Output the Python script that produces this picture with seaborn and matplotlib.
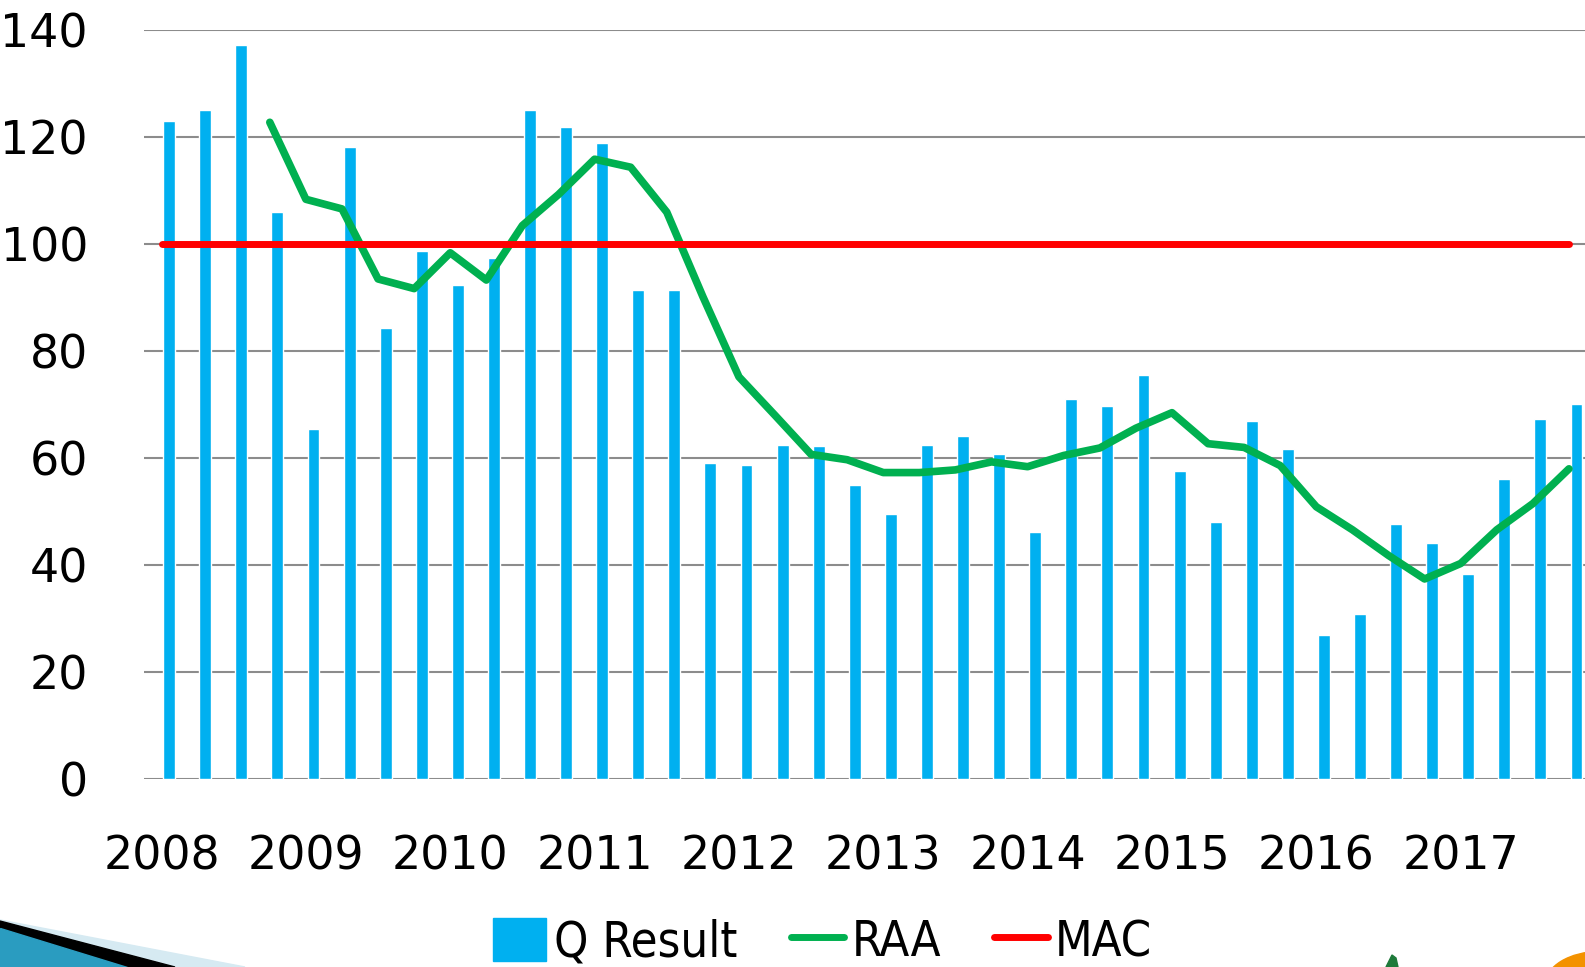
import numpy as np
import matplotlib.pyplot as plt
import seaborn as sns
import pandas as pd
from matplotlib.patches import Polygon, Circle, Patch
from matplotlib.lines import Line2D

sns.set_style('white')
plt.rcParams['font.family'] = ['DejaVu Sans']
plt.rcParams['text.color'] = 'black'

# quarterly results 2008 - 2017
years = ['2008', '2009', '2010', '2011', '2012', '2013', '2014', '2015', '2016', '2017']
q_result = [123.0, 125.1, 137.2, 106.0, 65.4, 118.1, 84.3, 98.8, 92.4, 97.5,
            125.1, 122.0, 119.0, 91.4, 91.4, 59.1, 58.8, 62.5, 62.3, 55.0,
            49.5, 62.5, 64.2, 60.8, 46.1, 71.0, 69.7, 75.6, 57.6, 48.0,
            66.9, 61.8, 27.0, 30.8, 47.6, 44.2, 38.4, 56.1, 67.4, 70.1]
# RAA (starts at the 4th quarter)
raa = [np.nan, np.nan, np.nan, 122.8, 108.4, 106.6, 93.5, 91.7, 98.4, 93.3,
       103.5, 109.3, 115.9, 114.4, 106.0, 90.2, 75.2, 68.0, 60.7, 59.7,
       57.3, 57.3, 57.8, 59.3, 58.4, 60.5, 61.9, 65.6, 68.5, 62.7,
       62.0, 58.6, 50.9, 46.6, 41.8, 37.4, 40.3, 46.6, 51.5, 58.0]
mac = [100] * 40

BLUE = '#00B0F0'
GREEN = '#00B050'
RED = '#FF0000'
GRID = '#8C8C8C'

W, H = 1585, 967
quarters = np.arange(len(q_result))
df = pd.DataFrame({'q': quarters, 'pos': quarters + 0.21,
                   'q_result': q_result, 'raa': raa, 'mac': mac})

fig = plt.figure(figsize=(W / 100, H / 100), dpi=100)
ax = fig.add_axes([143.5 / W, 188 / H, (1587 - 143.5) / W, (779 - 30.3) / H])

sns.barplot(data=df, x='pos', y='q_result', native_scale=True, width=0.33,
            color=BLUE, saturation=1, ax=ax, zorder=2)
sns.lineplot(data=df.dropna(), x='q', y='raa', color=GREEN, lw=5.5,
             solid_capstyle='round', solid_joinstyle='round', ax=ax, zorder=3)
sns.lineplot(data=df, x='q', y='mac', color=RED, lw=5,
             solid_capstyle='round', ax=ax, zorder=4)

ax.set_xlim(-0.5, 39.5)
ax.set_ylim(0, 140)
ax.set_yticks(range(0, 141, 20))
ax.set_xticks(quarters[::4])
ax.set_xticklabels(years)
ax.set_xlabel('')
ax.set_ylabel('')
ax.tick_params(axis='both', length=0, labelsize=33, colors='black')
ax.tick_params(axis='y', pad=40)
ax.tick_params(axis='x', pad=40)
ax.yaxis.grid(True, color=GRID, lw=1.5, zorder=0)
ax.set_axisbelow(True)
for s in ax.spines.values():
    s.set_visible(False)

handles = [Patch(color=BLUE),
           Line2D([], [], color=GREEN, lw=5, solid_capstyle='round'),
           Line2D([], [], color=RED, lw=5, solid_capstyle='round')]
fig.legend(handles, ['Q Result', 'RAA', 'MAC'], loc='center',
           bbox_to_anchor=(0.519, 0.026), ncol=3, frameon=False,
           prop={'size': 35, 'stretch': 'condensed'}, labelcolor='black',
           handlelength=1.1, handleheight=1.0, handletextpad=0.15,
           columnspacing=1.1)

# slide decorations at the bottom corners
def px(pts):
    return [(x / W, 1 - y / H) for x, y in pts]

fig.patches.append(Polygon(px([(0, 920), (175, 967), (245, 967)]), closed=True,
                           color='#D6EAF2', transform=fig.transFigure))
fig.patches.append(Polygon(px([(0, 921), (0, 929), (127, 967), (175, 967)]), closed=True,
                           color='black', transform=fig.transFigure))
fig.patches.append(Polygon(px([(0, 928), (0, 967), (127, 967)]), closed=True,
                           color='#2A9CC0', transform=fig.transFigure))
fig.patches.append(Circle((1600 / W, 1 - 985 / H), 55 / W, color='#F39200',
                          transform=fig.transFigure))
fig.patches.append(Polygon(px([(1386, 967), (1392, 955), (1396, 958), (1398, 967)]), closed=True,
                           color='#1E7A3A', transform=fig.transFigure))

fig.savefig('out.png', dpi=100)
